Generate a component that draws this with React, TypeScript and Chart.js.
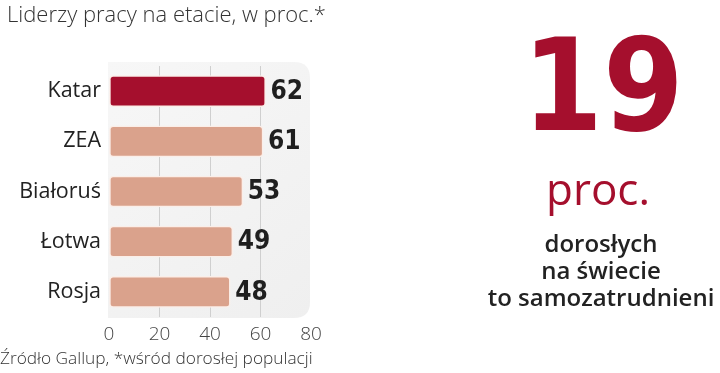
import React, { useEffect, useRef } from "react";
import { Chart, registerables } from "chart.js";

Chart.register(...registerables);

const categories = ["Katar", "ZEA", "Białoruś", "Łotwa", "Rosja"];
const values = [62, 61, 53, 49, 48];
const barColors = ["#a50f2d", "#daa28c", "#daa28c", "#daa28c", "#daa28c"];
const xTicks = [0, 20, 40, 60, 80];
const titleText = "Liderzy pracy na etacie, w proc.*";
const sourceText = "Źródło Gallup, *wśród dorosłej populacji";
const bigNumber = "19";
const bigUnit = "proc.";
const sideLines = ["dorosłych", "na świecie", "to samozatrudnieni"];

const extrasPlugin = {
  id: "extras",
  beforeDraw(chart: any) {
    const { ctx, chartArea } = chart;
    const l = chartArea.left - 1;
    const t = chartArea.top - 4;
    const r = chartArea.right - 1;
    const b = chartArea.bottom + 1;
    const rad = 16;
    ctx.save();
    const g = ctx.createLinearGradient(l, t, r, b);
    g.addColorStop(0, "#f7f7f7");
    g.addColorStop(1, "#efefef");
    ctx.fillStyle = g;
    ctx.beginPath();
    ctx.moveTo(l, t);
    ctx.lineTo(r - rad, t);
    ctx.quadraticCurveTo(r, t, r, t + rad);
    ctx.lineTo(r, b - rad);
    ctx.quadraticCurveTo(r, b, r - rad, b);
    ctx.lineTo(l, b);
    ctx.closePath();
    ctx.fill();
    ctx.restore();
  },
  afterDatasetsDraw(chart: any) {
    const { ctx } = chart;
    const meta = chart.getDatasetMeta(0);
    ctx.save();
    ctx.font = "bold 26px 'DejaVu Sans Condensed'";
    ctx.fillStyle = "#1f1f1f";
    ctx.textBaseline = "middle";
    ctx.textAlign = "left";
    meta.data.forEach((el: any, i: number) => {
      ctx.fillText(String(values[i]), el.x + 5, el.y + 1);
    });
    ctx.restore();
  },
  afterDraw(chart: any) {
    const { ctx } = chart;
    ctx.save();
    ctx.textBaseline = "alphabetic";
    ctx.textAlign = "left";
    ctx.fillStyle = "#333333";
    ctx.font = "300 22px 'Open Sans'";
    ctx.fillText(titleText, 7, 22);
    ctx.font = "300 17.3px 'Open Sans'";
    ctx.fillText(sourceText, 0, 364);

    ctx.textAlign = "center";
    ctx.fillStyle = "#a50f2d";
    ctx.font = "bold 129px 'DejaVu Sans Condensed'";
    ctx.fillText(bigNumber, 603, 130);
    ctx.font = "400 44px 'Open Sans'";
    ctx.fillText(bigUnit, 598, 205);
    ctx.fillStyle = "#222222";
    ctx.font = "600 24px 'Open Sans'";
    sideLines.forEach((s, i) => ctx.fillText(s, 601, 252 + i * 27));
    ctx.restore();
  },
};

export default function App() {
  const ref = useRef<HTMLCanvasElement>(null);
  useEffect(() => {
    document.body.style.margin = "0";
    const chart = new Chart(ref.current!, {
      type: "bar",
      data: {
        labels: categories,
        datasets: [
          {
            data: values,
            backgroundColor: barColors,
            borderColor: "#fbeee8",
            borderWidth: 1.5,
            borderRadius: 4,
            borderSkipped: false,
            barThickness: 31,
          },
        ],
      },
      options: {
        indexAxis: "y",
        animation: false,
        responsive: false,
        layout: { padding: { left: 0, top: 66, right: 409, bottom: 26 } },
        plugins: { legend: { display: false }, tooltip: { enabled: false } },
        scales: {
          x: {
            min: 0,
            max: 80,
            afterFit: (s: any) => {
              s.height = 30;
            },
            afterBuildTicks: (s: any) => {
              s.ticks = xTicks.map((v) => ({ value: v }));
            },
            border: { display: false },
            grid: {
              drawTicks: false,
              color: (c: any) =>
                c.tick && (c.tick.value === 0 || c.tick.value === 80)
                  ? "rgba(0,0,0,0)"
                  : "#cfcfcf",
              lineWidth: 1,
            },
            ticks: {
              padding: 6,
              color: "#444444",
              font: { family: "'Open Sans'", size: 19, weight: "300" },
            },
          },
          y: {
            afterFit: (s: any) => {
              s.width = 109;
            },
            border: { display: false },
            grid: { display: false, drawTicks: false },
            ticks: {
              padding: 8,
              color: "#222222",
              font: { family: "'Open Sans'", size: 21.5, weight: "400" },
            },
          },
        },
      },
      plugins: [extrasPlugin],
    });
    return () => chart.destroy();
  }, []);
  return <canvas ref={ref} width={720} height={373} style={{ display: "block" }} />;
}
